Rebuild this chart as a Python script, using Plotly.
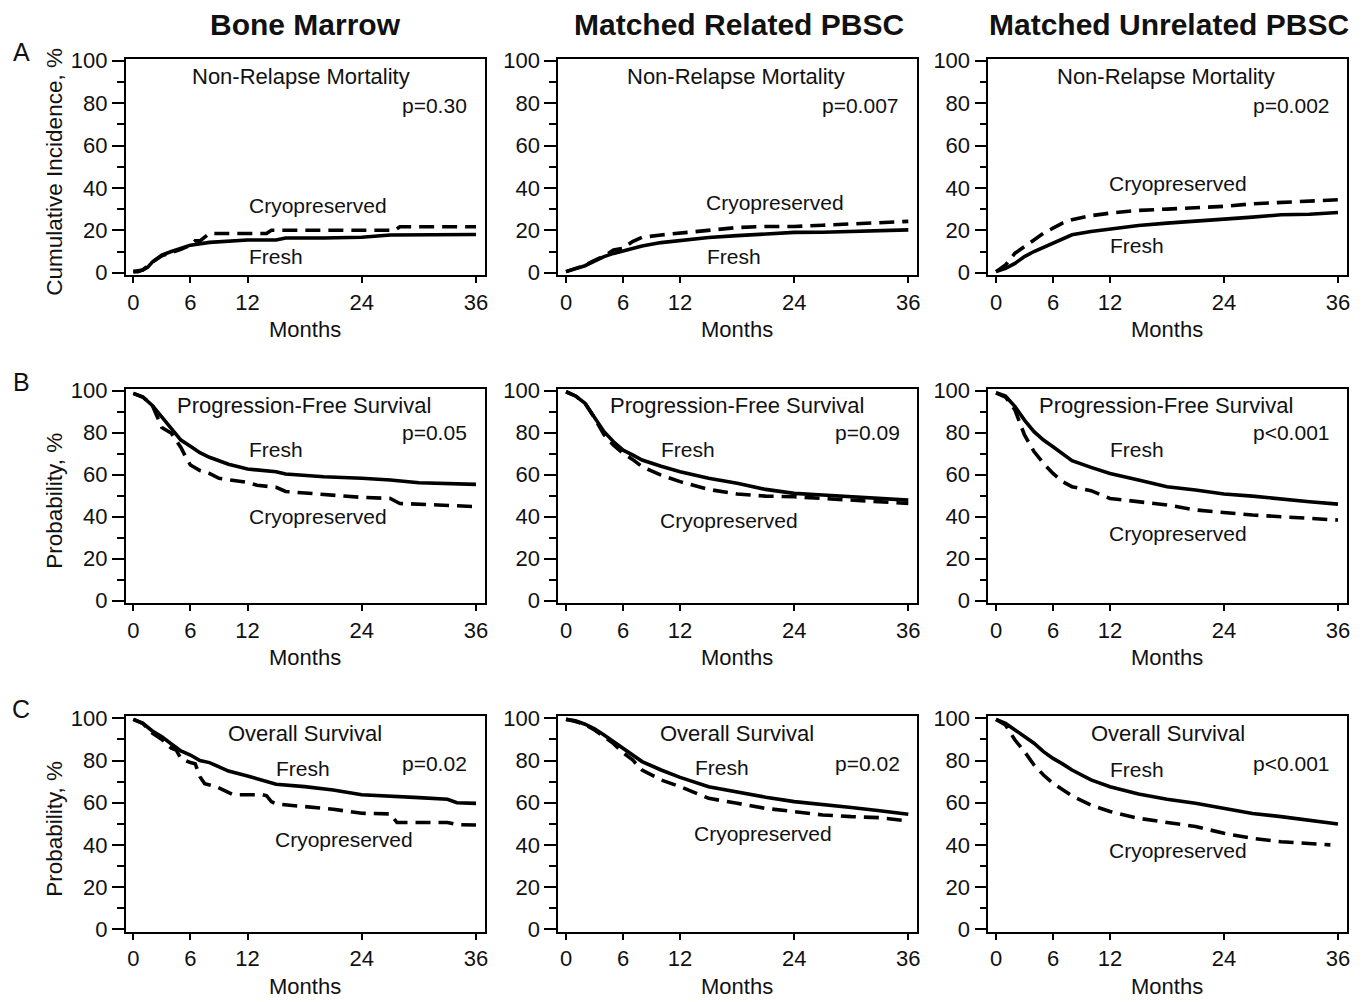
import plotly.graph_objects as go

FONT = "Arial, 'Liberation Sans', sans-serif"

# ---------------- data (months, percent) ----------------
months_grid = [0, 1, 2, 3, 4, 5, 6, 7, 8, 10, 12, 15, 18, 21, 24, 27, 30, 33, 36]

# Row A: Non-Relapse Mortality
nrm_bm_fresh_m = [0, 0.5, 1, 1.5, 2, 3, 4, 5, 6, 8, 10, 12, 15, 16, 20, 24, 27, 30, 36]
nrm_bm_fresh = [0.5, 0.5, 1.3, 2.5, 5, 8.3, 10, 11.5, 13, 14.3, 15, 15.4, 15.4, 16.4, 16.4, 16.7, 17.8, 18, 18]
nrm_bm_cryo_m = [0, 1, 2, 3, 4, 5, 6, 6.5, 7, 7.5, 8, 14, 14.5, 27.5, 28, 36]
nrm_bm_cryo = [0.5, 1.3, 5, 8, 9.5, 11, 13, 15, 15, 16.5, 18.5, 18.5, 20, 20, 21.7, 21.7]

nrm_mrd_fresh = [0.5, 1.9, 3.3, 5.5, 7.6, 9.1, 10.4, 11.6, 12.6, 14.2, 15.2, 16.6, 17.5, 18.3, 19.0, 19.1, 19.6, 19.9, 20.2]
nrm_mrd_cryo = [0.5, 1.9, 3.5, 5.8, 7.9, 10.7, 11.5, 14.7, 16.7, 17.8, 18.6, 20.2, 21.3, 21.8, 21.8, 22.4, 23.0, 23.4, 24.2]

nrm_mud_fresh = [0.5, 2.0, 4.4, 7.6, 10.0, 12.0, 13.9, 15.8, 17.9, 19.4, 20.5, 22.3, 23.4, 24.2, 25.0, 26.2, 27.3, 27.6, 28.4]
nrm_mud_cryo = [0.5, 3.6, 9.2, 12.3, 15.8, 18.6, 21.0, 23.4, 25.0, 26.9, 28.1, 29.4, 30.0, 30.6, 31.3, 32.5, 33.2, 33.6, 34.4]

# Row B: Progression-Free Survival
pfs_bm_fresh_m = [0, 1, 2, 3, 4, 5, 6, 7, 8, 10, 12, 15, 16, 20, 24, 27, 30, 33, 36]
pfs_bm_fresh = [98.7, 97, 93, 87.6, 82, 76.5, 73.6, 70.5, 68.3, 65, 62.7, 61.4, 60.3, 59, 58.3, 57.5, 56.2, 55.6, 55.4]
pfs_bm_cryo_m = [0, 1, 2, 3, 4, 5, 5.5, 6, 7, 8, 9, 10, 12, 13, 15, 16, 20, 24, 27, 28, 32, 36]
pfs_bm_cryo = [98.7, 97, 93, 82.5, 79.7, 73, 68.5, 64.6, 62, 60.6, 58.3, 57.5, 56.3, 55, 54, 52, 50.6, 49.2, 48.7, 46.3, 45.6, 44.8]

pfs_mrd_fresh = [99.5, 97.5, 94, 87.6, 80.5, 75.7, 71.7, 69.4, 67, 64, 61.4, 58.3, 55.9, 53, 51.1, 50.3, 49.5, 49, 47.9]
pfs_mrd_cryo = [99.5, 97.5, 94, 87, 79, 74, 70.2, 67.3, 63.8, 59.8, 56.7, 53, 50.8, 49.8, 49.5, 48.7, 48.3, 47.1, 46.3]

pfs_mud_fresh = [99, 97.5, 92.4, 86, 80.5, 76.5, 73.3, 69.8, 66.7, 63.5, 60.6, 57.5, 54.3, 52.7, 50.8, 49.8, 48.3, 47.1, 46]
pfs_mud_cryo = [99, 97, 90.8, 78.9, 71, 65.4, 60.6, 56.7, 54.3, 52.4, 48.7, 47.1, 45.6, 43.2, 41.9, 40.8, 40, 39.2, 38.4]

# Row C: Overall Survival
os_bm_fresh_m = [0, 1, 2, 3, 4, 5, 6, 7, 8, 10, 12, 14, 15, 18, 21, 24, 27, 30, 33, 34, 36]
os_bm_fresh = [99.5, 97.6, 94, 91.3, 87.8, 84.5, 82.6, 80, 79, 75, 72.7, 70, 68.7, 67.6, 66, 63.8, 62.9, 62.4, 61.6, 60, 59.7]
os_bm_cryo_m = [0, 1, 2, 3, 4, 4.5, 5, 6, 6.5, 7, 7.5, 8.7, 10.5, 13.6, 14, 14.5, 15, 18, 21, 24, 27, 27.7, 33, 34, 36]
os_bm_cryo = [99.5, 97.6, 93, 90, 85.8, 85, 81, 79, 78.5, 72.3, 69, 67.6, 63.8, 63.8, 63.3, 60.5, 59.4, 58.1, 56.9, 55, 54.7, 50.6, 50.6, 49.6, 49.4]

os_mrd_fresh = [99.5, 98.8, 97.2, 95, 92.1, 89, 85.8, 82.5, 79.5, 75.5, 72, 67.6, 64.9, 62.6, 60.5, 58.9, 57.7, 56.2, 54.5]
os_mrd_cryo = [99.5, 98.5, 97, 94.5, 91.3, 88, 83.7, 80.3, 75.5, 70.8, 67.6, 62.1, 59.7, 57.3, 55.8, 54.2, 53.4, 52.9, 51.3]

os_mud_fresh = [99.5, 97.6, 94.5, 91.3, 88.2, 84.2, 81, 78.4, 75.5, 70.8, 67.6, 64.1, 61.6, 59.7, 57.3, 54.9, 53.4, 51.5, 49.9]
os_mud_cryo_m = [0, 1, 2, 3, 4, 5, 6, 7, 8, 10, 12, 15, 18, 21, 24, 27, 30, 33, 35.2]
os_mud_cryo = [99.5, 96.8, 89.7, 84.2, 77.9, 73.1, 69.2, 66, 63.2, 58.9, 55.8, 52.6, 50.6, 48.7, 45.5, 43.1, 41.5, 40.8, 40]

column_titles = ["Bone Marrow", "Matched Related PBSC", "Matched Unrelated PBSC"]
row_letters = ["A", "B", "C"]
row_titles = ["Non-Relapse Mortality", "Progression-Free Survival", "Overall Survival"]
y_titles = ["Cumulative Incidence, %", "Probability, %", "Probability, %"]
p_values = [["p=0.30", "p=0.007", "p=0.002"],
            ["p=0.05", "p=0.09", "p<0.001"],
            ["p=0.02", "p=0.02", "p<0.001"]]
x_ticks = [0, 6, 12, 24, 36]
y_ticks = [0, 20, 40, 60, 80, 100]

curves = [
    [(nrm_bm_fresh_m, nrm_bm_fresh, nrm_bm_cryo_m, nrm_bm_cryo),
     (months_grid, nrm_mrd_fresh, months_grid, nrm_mrd_cryo),
     (months_grid, nrm_mud_fresh, months_grid, nrm_mud_cryo)],
    [(pfs_bm_fresh_m, pfs_bm_fresh, pfs_bm_cryo_m, pfs_bm_cryo),
     (months_grid, pfs_mrd_fresh, months_grid, pfs_mrd_cryo),
     (months_grid, pfs_mud_fresh, months_grid, pfs_mud_cryo)],
    [(os_bm_fresh_m, os_bm_fresh, os_bm_cryo_m, os_bm_cryo),
     (months_grid, os_mrd_fresh, months_grid, os_mrd_cryo),
     (months_grid, os_mud_fresh, os_mud_cryo_m, os_mud_cryo)],
]

# ---------------- layout geometry (page pixels) ----------------
OFF = 8                     # browser default body margin
W, H = 1368 - OFF, 1002 - OFF
col_x0 = [133.3, 566.0, 996.0]     # pixel of month 0
col_x36 = [476.0, 908.3, 1338.0]   # pixel of month 36
row_y0 = [272.7, 600.7, 929.3]     # pixel of 0 %
row_y100 = [60.7, 390.7, 718.3]    # pixel of 100 %
XR = (-0.8, 36.9)
YR = (-1.2, 101.0)

# annotation pixel positions per panel: title, p (right edge), fresh, cryo
lab_pos = [
    [dict(t=(301, 76), p=(469, 105), f=(276, 257), c=(318, 205)),
     dict(t=(736, 76), p=(901, 105), f=(734, 257), c=(775, 202)),
     dict(t=(1166, 76), p=(1332, 105), f=(1137, 245), c=(1178, 183))],
    [dict(t=(304, 405), p=(469, 433), f=(276, 449), c=(318, 517)),
     dict(t=(737, 405), p=(902, 433), f=(688, 449), c=(729, 520)),
     dict(t=(1166, 405), p=(1332, 433), f=(1137, 449), c=(1178, 533))],
    [dict(t=(305, 733), p=(469, 763), f=(303, 768), c=(344, 839)),
     dict(t=(737, 733), p=(902, 763), f=(722, 767), c=(763, 833)),
     dict(t=(1168, 733), p=(1332, 763), f=(1137, 769), c=(1178, 850))],
]


def px(x):
    return (x - OFF) / W


def py(y):
    return 1 - (y - OFF) / H


TXT = dict(family=FONT, size=21, color="#111")

fig = go.Figure()
layout = dict(
    template="none",
    width=W, height=H,
    margin=dict(l=0, r=0, t=0, b=0, pad=0, autoexpand=False),
    paper_bgcolor="white", plot_bgcolor="white",
    showlegend=False,
    font=TXT,
)
annotations = []

for r in range(3):
    for c in range(3):
        k = r * 3 + c + 1
        xa = "xaxis" if k == 1 else f"xaxis{k}"
        ya = "yaxis" if k == 1 else f"yaxis{k}"
        xref = "x" if k == 1 else f"x{k}"
        yref = "y" if k == 1 else f"y{k}"
        ppm = (col_x36[c] - col_x0[c]) / 36.0
        left = col_x0[c] + XR[0] * ppm
        right = col_x0[c] + XR[1] * ppm
        ppu = (row_y0[r] - row_y100[r]) / 100.0
        bottom = row_y0[r] - YR[0] * ppu
        top = row_y0[r] - YR[1] * ppu
        layout[xa] = dict(
            domain=[px(left), px(right)], range=list(XR), anchor=yref,
            automargin=False,
            showgrid=False, zeroline=False, showline=True, mirror=True,
            linecolor="black", linewidth=1.8,
            tickmode="array", tickvals=x_ticks, ticktext=[str(v) for v in x_ticks],
            ticks="outside", ticklen=6, tickwidth=1.5, tickcolor="black",
            tickfont=dict(family=FONT, size=22, color="#111"),
            ticklabelstandoff=0,
        )
        layout[ya] = dict(
            domain=[py(bottom), py(top)], range=list(YR), anchor=xref,
            automargin=False,
            showgrid=False, zeroline=False, showline=True, mirror=True,
            linecolor="black", linewidth=1.8,
            tickmode="array", tickvals=y_ticks, ticktext=[str(v) for v in y_ticks],
            ticks="outside", ticklen=12, tickwidth=1.5, tickcolor="black",
            tickfont=dict(family=FONT, size=22, color="#111"),
            ticklabelstandoff=0,
            minor=dict(tickmode="linear", tick0=0, dtick=10, ticks="outside",
                       ticklen=7, tickwidth=1.5, tickcolor="black", showgrid=False),
        )
        fm, fv, cm, cv = curves[r][c]
        fig.add_trace(go.Scatter(x=fm, y=fv, mode="lines", xaxis=xref, yaxis=yref,
                                 line=dict(color="black", width=3.6), name="Fresh"))
        fig.add_trace(go.Scatter(x=cm, y=cv, mode="lines", xaxis=xref, yaxis=yref,
                                 line=dict(color="black", width=3.6, dash="15px,8px"),
                                 name="Cryopreserved"))
        lp = lab_pos[r][c]
        annotations += [
            dict(x=px(lp["t"][0]), y=py(lp["t"][1]), xref="paper", yref="paper",
                 text=row_titles[r], showarrow=False, xanchor="center", yanchor="middle",
                 font=dict(family=FONT, size=22, color="#111")),
            dict(x=px(lp["p"][0]), y=py(lp["p"][1]), xref="paper", yref="paper",
                 text=p_values[r][c], showarrow=False, xanchor="right", yanchor="middle",
                 font=TXT),
            dict(x=px(lp["f"][0]), y=py(lp["f"][1]), xref="paper", yref="paper",
                 text="Fresh", showarrow=False, xanchor="center", yanchor="middle",
                 font=TXT),
            dict(x=px(lp["c"][0]), y=py(lp["c"][1]), xref="paper", yref="paper",
                 text="Cryopreserved", showarrow=False, xanchor="center", yanchor="middle",
                 font=TXT),
        ]
        # x-axis title
        annotations.append(dict(
            x=px((col_x0[c] + col_x36[c]) / 2), y=py(row_y0[r] + 57),
            xref="paper", yref="paper", text="Months", showarrow=False,
            xanchor="center", yanchor="middle", font=dict(family=FONT, size=22, color="#111")))

# y-axis titles and row letters
for r in range(3):
    annotations.append(dict(
        x=px(55), y=py((row_y0[r] + row_y100[r]) / 2 + 5), xref="paper", yref="paper",
        text=y_titles[r], textangle=-90, showarrow=False, xanchor="center", yanchor="middle",
        font=dict(family=FONT, size=22.5, color="#111")))
    annotations.append(dict(
        x=px(21), y=py(row_y100[r] - 9), xref="paper", yref="paper",
        text=row_letters[r], showarrow=False, xanchor="center", yanchor="middle",
        font=dict(family=FONT, size=25, color="#111")))

# column headers
for c in range(3):
    annotations.append(dict(
        x=px([305, 739, 1169][c]), y=py(25), xref="paper", yref="paper",
        text=f"<b>{column_titles[c]}</b>", showarrow=False, xanchor="center", yanchor="middle",
        font=dict(family=FONT, size=30, color="#111")))

layout["annotations"] = annotations
fig.update_layout(**layout)
fig.write_html("out.html")
